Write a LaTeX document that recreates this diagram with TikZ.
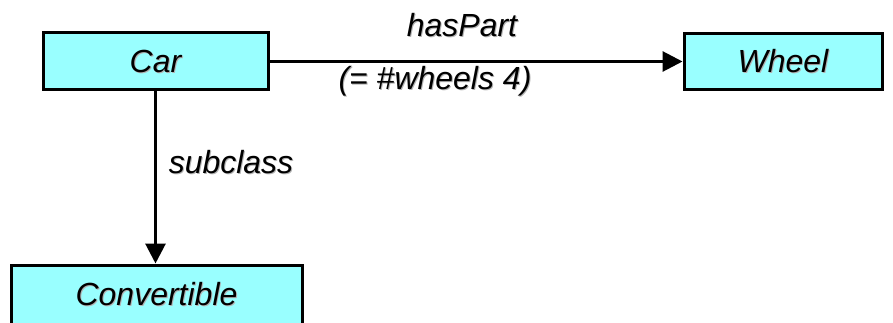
\documentclass[tikz,border=0pt]{standalone}
\usepackage{fontspec}
\setmainfont{Liberation Sans}
\usetikzlibrary{arrows.meta}
\definecolor{classfill}{HTML}{99FFFF}
% text with a faint grey drop shadow
\newcommand{\shadowed}[1]{\makebox[0pt][l]{\kern1pt\raisebox{-1pt}{\color{black!30}#1}}#1}
\tikzset{
  classbox/.style={draw=black, line width=3pt, fill=classfill, rectangle,
    inner sep=0pt, font=\fontsize{32}{34}\selectfont\itshape},
  relation/.style={draw=black, line width=3pt, -{Triangle[length=20pt,width=20pt]}},
  rellabel/.style={font=\fontsize{32}{34}\selectfont\itshape, inner sep=0pt}
}
\begin{document}
\begin{tikzpicture}[x=1pt,y=1pt]
  \useasboundingbox (0,0) rectangle (893,-323);
  \node[classbox, minimum width=225pt, minimum height=57pt] (car) at (155.5,-61.5) {\shadowed{Car}};
  \node[classbox, minimum width=198pt, minimum height=56pt] (wheel) at (783,-61.5) {\shadowed{Wheel}};
  \node[classbox, minimum width=291pt, minimum height=60pt] (conv) at (156.5,-295) {\raisebox{1.5pt}{\shadowed{Convertible}}};
  \draw[relation] (car.east) -- (wheel.west);
  \draw[relation] (car.south) -- (car.south |- conv.north);
  \node[rellabel] (haspart) at (462,-26) {\shadowed{hasPart}};
  \node[rellabel] (card) at (435,-82) {\shadowed{(= \#wheels 4)}};
  \node[rellabel] (subcl) at (231,-163) {\shadowed{subclass}};
\end{tikzpicture}
\end{document}
